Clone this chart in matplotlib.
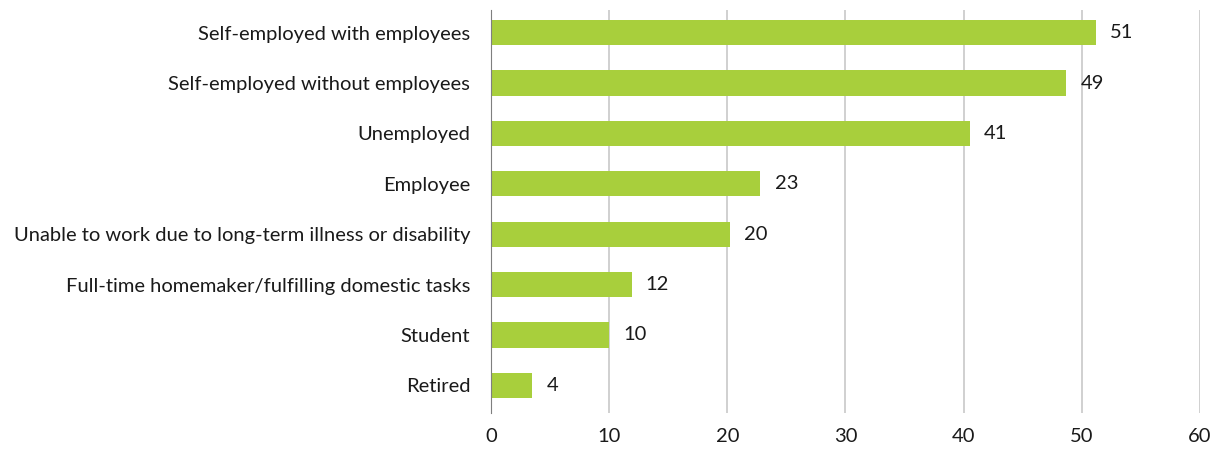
import matplotlib.pyplot as plt
import numpy as np

plt.rcParams['font.family'] = ['Lato', 'DejaVu Sans']

categories = ['Self-employed with employees', 'Self-employed without employees', 'Unemployed',
              'Employee', 'Unable to work due to long-term illness or disability',
              'Full-time homemaker/fulfilling domestic tasks', 'Student', 'Retired']
values = [51.2, 48.7, 40.5, 22.8, 20.2, 11.9, 10.0, 3.5]
labels = ['51', '49', '41', '23', '20', '12', '10', '4']
xticks = [0, 10, 20, 30, 40, 50, 60]

fig = plt.figure(figsize=(12.19, 4.5), dpi=100)
ax = fig.add_axes([491 / 1219, 1 - 413 / 450, (1200 - 491) / 1219, 403 / 450])

y = np.arange(len(categories))
ax.barh(y, values, height=0.5, color='#a8cf3c', zorder=3)
for yi, v, lab in zip(y, values, labels):
    ax.text(v + 1.2, yi, lab, va='center', ha='left', fontsize=14.5, color='#1a1a1a')

ax.set_ylim(len(categories) - 0.45, -0.45)
ax.set_xlim(0, 60)
ax.set_xticks(xticks)
ax.set_yticks(y)
ax.set_yticklabels(categories)
ax.grid(axis='x', color='#c8c8c8', linewidth=1.2, zorder=0)
for s in ['top', 'right', 'bottom']:
    ax.spines[s].set_visible(False)
ax.spines['left'].set_color('#7f7f7f')
ax.spines['left'].set_zorder(4)
ax.tick_params(axis='both', length=0, labelsize=14.5, colors='#1a1a1a')
ax.tick_params(axis='y', pad=15)
ax.tick_params(axis='x', pad=11)

fig.savefig('out.png', dpi=100)
